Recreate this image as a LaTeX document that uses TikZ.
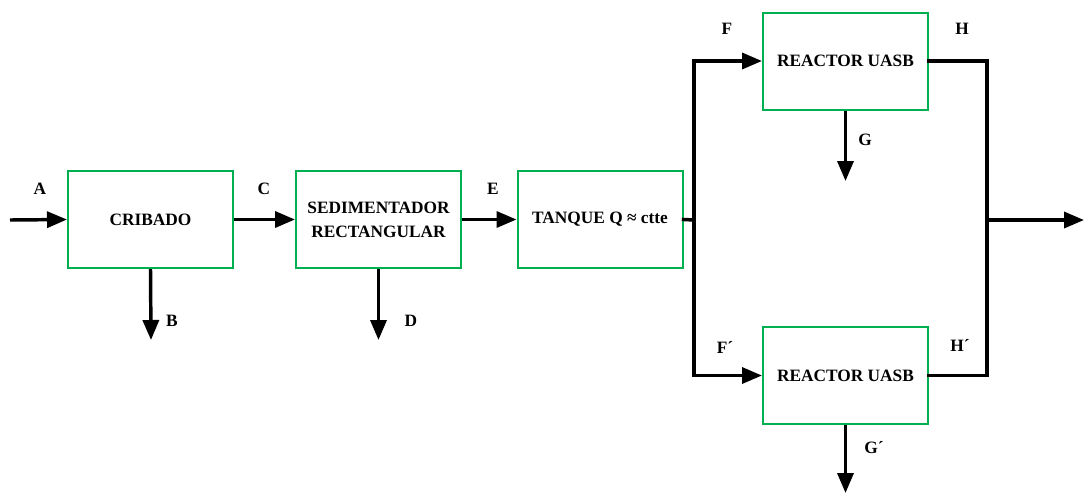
\documentclass[tikz,border=0pt]{standalone}
\usepackage{fontspec}
\setmainfont{Liberation Serif}
\newfontfamily\boxfont{Liberation Serif}
\usetikzlibrary{arrows.meta}
\definecolor{boxgreen}{RGB}{0,176,80}
\begin{document}
\begin{tikzpicture}[x=0.75pt,y=-0.75pt,
  unit/.style={draw=boxgreen, line width=1.5pt, minimum width=123.75pt, minimum height=72.75pt,
     inner sep=0pt, font=\boxfont\fontsize{13}{18}\selectfont\bfseries, align=center},
  lbl/.style={inner sep=0pt, font=\boxfont\fontsize{13}{15}\selectfont\bfseries},
  flow/.style={line width=2.6pt, -{Triangle[length=15pt,width=12pt]}},
  pipe/.style={line width=2.6pt, line cap=rect}]
\useasboundingbox (0,0) rectangle (1084,494);
% units
\node[unit] (crib) at (150.5,219.5) {CRIBADO};
\node[unit] (sed) at (378.5,219.5) {SEDIMENTADOR\\RECTANGULAR};
\node[unit] (tan) at (600,219.5) {TANQUE Q ≈ ctte};
\node[unit] (r1) at (845.5,61) {REACTOR UASB};
\node[unit] (r2) at (845.5,375.5) {REACTOR UASB};
% free ends
\coordinate (in) at (10,220);
\coordinate (b) at (151,340);
\coordinate (d) at (378.5,340);
\coordinate (split) at (694,220);
\coordinate (merge) at (987,220);
\coordinate (out) at (1084,220);
\coordinate (g) at (845.5,181);
\coordinate (g2) at (845.5,493);
% connectors
\draw[flow] (in) -- (crib.west);
\draw[flow] (crib.east) -- (sed.west);
\draw[flow] (sed.east) -- (tan.west);
\draw[flow] (crib.south) -- (b);
\draw[flow] (sed.south) -- (d);
\draw[pipe] (tan.east) -- (split);
\draw[flow] (split) |- (r1.west);
\draw[flow] (split) |- (r2.west);
\draw[pipe] (r1.east) -| (merge);
\draw[pipe] (r2.east) -| (merge);
\draw[flow] (merge) -- (out);
\draw[flow] (r1.south) -- (g);
\draw[flow] (r2.south) -- (g2);
% labels
\node[lbl] (la) at (40,189) {A};
\node[lbl] (lc) at (264,189) {C};
\node[lbl] (le) at (493,189) {E};
\node[lbl] (lb) at (172,321) {B};
\node[lbl] (ld) at (411,321) {D};
\node[lbl] (lf) at (727,29) {F};
\node[lbl] (lh) at (962,29) {H};
\node[lbl] (lg) at (865,140) {G};
\node[lbl] (lf2) at (725,347) {F´};
\node[lbl] (lh2) at (960,345) {H´};
\node[lbl] (lg2) at (874,448) {G´};
\end{tikzpicture}
\end{document}
